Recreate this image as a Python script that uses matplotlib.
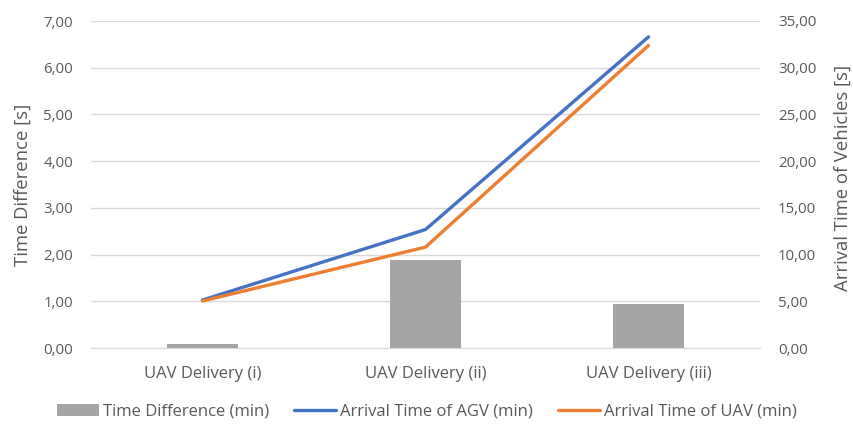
import matplotlib
matplotlib.use("Agg")
import matplotlib.pyplot as plt
from matplotlib.ticker import FuncFormatter, MultipleLocator

# данные с графика
categories = ["UAV Delivery (i)", "UAV Delivery (ii)", "UAV Delivery (iii)"]
time_diff = [0.09, 1.88, 0.94]
agv_arrival = [5.13, 12.68, 33.30]
uav_arrival = [5.03, 10.80, 32.38]

plt.rcParams["font.family"] = ["Open Sans", "DejaVu Sans"]
txt = "#595959"
grid_c = "#D9D9D9"

fig = plt.figure(figsize=(8.54, 4.28), dpi=100)
ax = fig.add_axes([91 / 854, 1 - 348 / 428, 669 / 854, 327 / 428])
ax2 = ax.twinx()

x = list(range(len(categories)))
b = ax.bar(x, time_diff, width=0.315, color="#A5A5A5", label="Time Difference (min)", zorder=2)
l1, = ax2.plot(x, agv_arrival, color="#4472C4", lw=2.4, label="Arrival Time of AGV (min)",
               solid_capstyle="round")
l2, = ax2.plot(x, uav_arrival, color="#ED7D31", lw=2.4, label="Arrival Time of UAV (min)",
               solid_capstyle="round")

ax.set_xlim(-0.5, 2.5)
ax.set_ylim(0, 7)
ax2.set_ylim(0, 35)
ax.yaxis.set_major_locator(MultipleLocator(1))
ax2.yaxis.set_major_locator(MultipleLocator(5))
fmt = FuncFormatter(lambda v, p: "{:.2f}".format(v).replace(".", ","))
ax.yaxis.set_major_formatter(fmt)
ax2.yaxis.set_major_formatter(fmt)

ax.set_xticks(x)
ax.set_xticklabels(categories)
ax.grid(axis="y", color=grid_c, lw=1, zorder=0)
ax.set_axisbelow(True)

for a in (ax, ax2):
    for s in a.spines.values():
        s.set_visible(False)
    a.tick_params(axis="y", length=0, labelsize=10.8, colors=txt, pad=13)
ax.spines["bottom"].set_visible(True)
ax.spines["bottom"].set_color(grid_c)
ax.tick_params(axis="x", length=0, labelsize=12, colors=txt, pad=13)

ax.set_ylabel("Time Difference [s]", fontsize=13.3, color=txt)
ax2.set_ylabel("Arrival Time of Vehicles [s]", fontsize=13.3, color=txt)
ax.yaxis.set_label_coords(-0.088, 0.5)
ax2.yaxis.set_label_coords(1.111, 0.52)

fig.legend(handles=[b, l1, l2], loc="center", bbox_to_anchor=(0.5, 1 - 412 / 428),
           ncol=3, frameon=False, fontsize=12, labelcolor=txt, handlelength=2.5,
           handletextpad=0.25, columnspacing=1.5)

fig.savefig("out.png", dpi=100)
